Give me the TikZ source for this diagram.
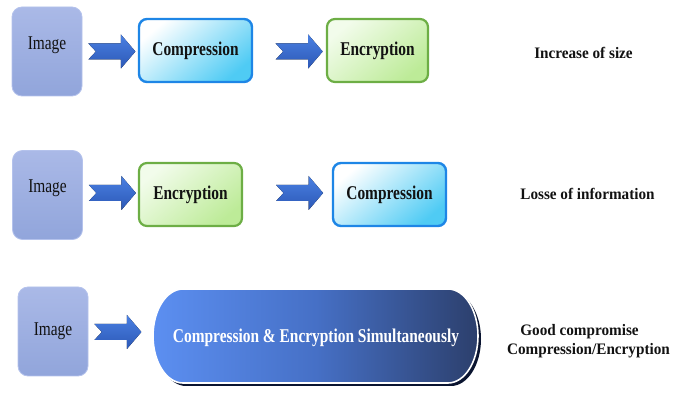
\documentclass[tikz,border=0pt]{standalone}
\usepackage{fontspec}
\setmainfont{Liberation Serif}
% condensed serif for the box captions
\newfontfamily\condserif{Liberation Serif}[FakeStretch=0.79]
\newfontfamily\noteserif{Liberation Serif}[FakeStretch=0.95]
\usetikzlibrary{calc}

\definecolor{imgtop}{HTML}{AAB9E7}
\definecolor{imgbot}{HTML}{91A5DB}
\definecolor{imgedge}{HTML}{B4C2EC}
\definecolor{compedge}{HTML}{1E86E6}
\definecolor{compfill}{HTML}{4FCBF4}
\definecolor{encedge}{HTML}{6DAE45}
\definecolor{encfill}{HTML}{BDEB98}
\definecolor{enclight}{HTML}{F2FCEB}
\definecolor{arrtop}{HTML}{4A80E2}
\definecolor{arrbot}{HTML}{2C58B6}
\definecolor{bigleft}{HTML}{5C8FF1}
\definecolor{bigmid}{HTML}{4670C6}
\definecolor{bigright}{HTML}{2C3F6C}
\definecolor{bigshadow}{HTML}{0A1430}
\definecolor{txt}{HTML}{121212}

\tikzset{
  imgbox/.style={draw=imgedge, line width=0.8pt, rounded corners=10pt,
    top color=imgtop, bottom color=imgbot,
    minimum width=70pt, minimum height=89pt, inner sep=0pt},
  imgtext/.style={font=\condserif\fontsize{19.5}{22}\selectfont, text=txt},
  boxfont/.style={font=\condserif\bfseries\fontsize{19.5}{22}\selectfont},
  compbox/.style={boxfont, draw=compedge, line width=2.4pt, rounded corners=8pt,
    top color=white, bottom color=compfill, shading angle=40,
    minimum width=113pt, minimum height=63pt, inner sep=0pt, text=txt},
  encbox/.style={boxfont, draw=encedge, line width=2.2pt, rounded corners=8pt,
    top color=enclight, bottom color=encfill, shading angle=40,
    minimum height=63pt, inner sep=0pt, text=txt},
  note/.style={font=\noteserif\bfseries\fontsize{16}{19}\selectfont, text=txt, align=center},
  blockarrow/.pic={
    \fill[top color=arrtop, bottom color=arrbot]
      (-23.5,8) -- (9,8) -- (9,17) -- (23.5,0) -- (9,-17) -- (9,-8)
      -- (-23.5,-8) -- (-16,0) -- cycle;
  }
}

\begin{document}
\begin{tikzpicture}[x=1pt,y=1pt]
\useasboundingbox (0,0) rectangle (681,394);

% ---- first row: compression then encryption
\node[imgbox] (img1) at (47,342.5) {};
\node[imgtext] (img1t) at ($(img1.center)+(0,6)$) {Image};
\node[compbox] (comp1) at (195.5,343.5) {Compression};
\node[encbox, minimum width=101pt] (enc1) at (377.5,343.5) {Encryption};
\pic at ($(img1.east)+(29.5,0)$) {blockarrow};
\pic at ($(comp1.east)+(46,-1)$) {blockarrow};
\node[note] (size) at (583.5,341) {Increase of size};

% ---- second row: encryption then compression
\node[imgbox] (img2) at (47.5,199) {};
\node[imgtext] (img2t) at ($(img2.center)+(0,6.5)$) {Image};
\node[encbox, minimum width=103pt] (enc2) at (190.5,199.5) {Encryption};
\node[compbox] (comp2) at (389.5,199.5) {Compression};
\pic at ($(img2.east)+(29.5,2)$) {blockarrow};
\pic at ($(enc2.east)+(56.5,1.5)$) {blockarrow};
\node[note] (loss) at (587.5,200) {Losse of information};

% ---- third row: joint scheme
\node[imgbox] (img3) at (53,62.5) {};
\node[imgtext] (img3t) at (img3.center) {Image};
\pic at ($(img3.east)+(29.5,-0.5)$) {blockarrow};

% drop shadow of the joint block
\fill[bigshadow]
  (186,102) -- (451,102)
  arc[start angle=90, end angle=-90, x radius=30, y radius=47]
  -- (186,8)
  arc[start angle=270, end angle=90, x radius=30, y radius=47] -- cycle;
% joint block with a thin white rim
\path[draw=white, line width=1.6pt, left color=bigleft, right color=bigright, middle color=bigmid]
  (183,105) -- (448,105)
  arc[start angle=90, end angle=-90, x radius=30, y radius=47]
  -- (183,11)
  arc[start angle=270, end angle=90, x radius=30, y radius=47] -- cycle;
\node[boxfont, text=white] (both) at (316,56)
  {Compression \& Encryption Simultaneously};

\node[note] (good1) at (579.5,62) {Good compromise};
\node[note] (good2) at (588.5,43) {Compression/Encryption};
\end{tikzpicture}
\end{document}
